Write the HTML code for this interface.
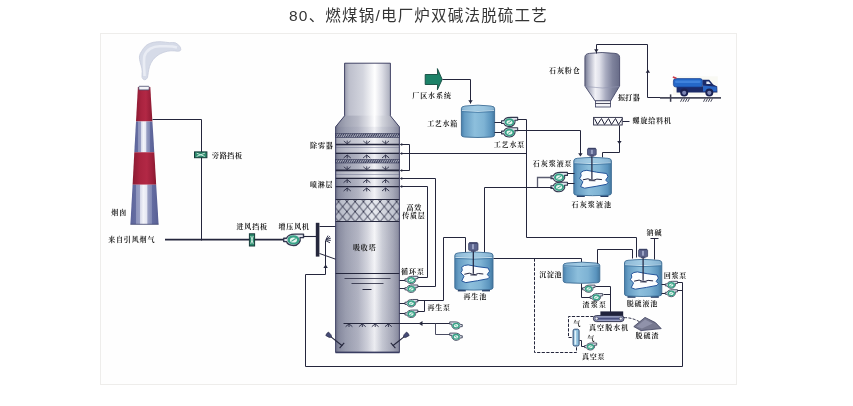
<!DOCTYPE html>
<html lang="zh-CN">
<head>
<meta charset="utf-8">
<title>80、燃煤锅/电厂炉双碱法脱硫工艺</title>
<style>
html,body{margin:0;padding:0;background:#fff;}
body{width:853px;height:406px;overflow:hidden;position:relative;font-family:"Liberation Sans","Noto Sans CJK SC",sans-serif;}
.title{opacity:0.99;position:absolute;left:0;top:0;width:837px;height:31px;line-height:31px;text-align:center;font-size:15.5px;color:#333;letter-spacing:1.2px;white-space:nowrap;margin:0;font-weight:normal}
.fig{position:absolute;left:100px;top:33px;width:635px;height:350px;border:1px solid #eeedeb;background:#fefefe;}
svg{position:absolute;left:0;top:0;}
svg text{font-family:"Liberation Serif","Noto Serif CJK SC",serif;font-weight:700;fill:#1e1e1e;}
</style>
</head>
<body>
<h1 class="title">80、燃煤锅/电厂炉双碱法脱硫工艺</h1>
<div class="fig"></div>
<svg width="853" height="406" viewBox="0 0 853 406">
<defs>
<linearGradient id="tw" x1="0" x2="1" y1="0" y2="0">
<stop offset="0" stop-color="#70748a"/><stop offset="0.05" stop-color="#8c8fa2"/><stop offset="0.16" stop-color="#a1a4b4"/><stop offset="0.35" stop-color="#b8bac7"/>
<stop offset="0.5" stop-color="#dcdde4"/><stop offset="0.61" stop-color="#fdfdfe"/><stop offset="0.73" stop-color="#d2d4dc"/>
<stop offset="0.9" stop-color="#abadbb"/><stop offset="1" stop-color="#8a8c9f"/>
</linearGradient>
<linearGradient id="twn" x1="0" x2="1" y1="0" y2="0">
<stop offset="0" stop-color="#9a9dae"/><stop offset="0.1" stop-color="#bdbfcc"/><stop offset="0.4" stop-color="#d3d5de"/>
<stop offset="0.66" stop-color="#ffffff"/><stop offset="0.82" stop-color="#dcdde5"/><stop offset="1" stop-color="#aaadbc"/>
</linearGradient>
<linearGradient id="twd" x1="0" x2="0" y1="0" y2="1">
<stop offset="0" stop-color="#50557c" stop-opacity="0.08"/><stop offset="0.5" stop-color="#50557c" stop-opacity="0.05"/><stop offset="1" stop-color="#4a4f78" stop-opacity="0.1"/>
</linearGradient>
<linearGradient id="tk" x1="0" x2="1" y1="0" y2="0">
<stop offset="0" stop-color="#4880ac"/><stop offset="0.1" stop-color="#669dc4"/><stop offset="0.4" stop-color="#8dbfdc"/>
<stop offset="0.68" stop-color="#7eb3d4"/><stop offset="0.9" stop-color="#5a94be"/><stop offset="1" stop-color="#44789f"/>
</linearGradient>
<linearGradient id="red" x1="0" x2="1" y1="0" y2="0">
<stop offset="0" stop-color="#8a1a32"/><stop offset="0.3" stop-color="#a9233f"/><stop offset="0.6" stop-color="#b22845"/><stop offset="0.85" stop-color="#9c1f3a"/><stop offset="1" stop-color="#86182e"/>
</linearGradient>
<linearGradient id="gry" x1="0" x2="1" y1="0" y2="0">
<stop offset="0" stop-color="#5c649a"/><stop offset="0.2" stop-color="#666ea2"/><stop offset="0.2" stop-color="#8d94bc"/><stop offset="0.34" stop-color="#9aa0c4"/>
<stop offset="0.34" stop-color="#d4d7e8"/><stop offset="0.46" stop-color="#f2f3f9"/><stop offset="0.58" stop-color="#e4e6f2"/><stop offset="0.62" stop-color="#9aa0c4"/><stop offset="0.76" stop-color="#8088b4"/>
<stop offset="0.76" stop-color="#656da2"/><stop offset="1" stop-color="#585f94"/>
</linearGradient>
<linearGradient id="silo" x1="0" x2="1" y1="0" y2="0">
<stop offset="0" stop-color="#73778f"/><stop offset="0.1" stop-color="#a3a6ba"/><stop offset="0.3" stop-color="#f1f1f6"/>
<stop offset="0.42" stop-color="#e0e1ea"/><stop offset="0.6" stop-color="#a9acc0"/><stop offset="0.8" stop-color="#7e829c"/><stop offset="1" stop-color="#686c88"/>
</linearGradient>
<pattern id="hat" width="2.2" height="4" patternUnits="userSpaceOnUse">
<rect width="2.2" height="4" fill="#b4b7c6"/><path d="M-0.55 4 L1.65 0 M1.65 4 L3.85 0 M-2.75 4 L-0.55 0" stroke="#2e3250" stroke-width="1.0"/>
</pattern>
<pattern id="xh" width="8.3" height="10" patternUnits="userSpaceOnUse" x="330.25" y="201.6">
<path d="M0 0 L8.3 10 M8.3 0 L0 10" stroke="#25273f" stroke-width="0.9" fill="none"/>
</pattern>
<filter id="tb" x="-5%" y="-5%" width="110%" height="110%"><feGaussianBlur stdDeviation="0.22"/></filter>
<filter id="sm" x="-20%" y="-20%" width="140%" height="140%"><feGaussianBlur stdDeviation="0.5"/></filter>
</defs>

<g id="chimney">
<path d="M140.3 53.5 Q141.0 52.1 143.4 48.5 Q145.8 44.9 149.4 43.5 Q153.0 42.1 157.2 41.8 Q161.3 41.4 165.5 42.2 Q169.7 43.0 172.6 42.5 Q175.6 42.1 178.3 44.7 Q181.1 47.3 180.8 49.5 Q180.6 51.6 177.5 51.2 Q174.4 50.7 170.9 50.8 Q167.3 50.9 163.1 52.5 Q158.9 54.0 155.7 56.9 Q152.5 59.7 150.9 63.1 Q149.4 66.4 148.8 69.4 Q148.2 72.4 147.9 75.3 Q147.7 78.3 146.1 79.3 Q144.6 80.3 143.1 79.1 Q141.5 77.9 142.0 74.6 Q142.5 71.2 141.8 68.2 Q141.0 65.2 140.2 62.2 Q139.3 59.3 139.4 57.1 Q139.6 55.0 140.3 53.5 Z" fill="#d6dbe8" stroke="#c6ccdc" stroke-width="0.8" filter="url(#sm)"/>
<path d="M144.6 76 C144.4 70 143.4 63 144.4 56 C146.6 49.6 153 46 160 46.2 C165 46.6 171 45.6 177 47.4" fill="none" stroke="#e9ecf4" stroke-width="2.6" filter="url(#sm)"/>
<polygon points="137.9,87.0 150.3,87.0 152.4,121.6 136.0,121.6" fill="url(#red)"/>
<polygon points="136.0,121.6 152.4,121.6 154.3,152.2 134.3,152.2" fill="url(#gry)"/>
<polygon points="134.3,152.2 154.3,152.2 156.2,184.7 132.6,184.7" fill="url(#red)"/>
<polygon points="132.6,184.7 156.2,184.7 158.6,224.3 130.4,224.3" fill="url(#gry)"/>
<rect x="138.8" y="86.3" width="10.4" height="3.6" rx="0.8" fill="#f4f4f8" stroke="#4a4e6e" stroke-width="0.8"/>
<path d="M130.4 224.3 L158.6 224.3" stroke="#3a3f6a" stroke-width="0.8"/>
</g>
<path d="M152.5 119.5 L201.5 119.5 L201.5 240.5" fill="none" stroke="#24263c" stroke-width="1.00" />
<rect x="194.5" y="151.9" width="12.4" height="5.8" fill="#2b8a6c" stroke="#183a3a" stroke-width="1"/>
<path d="M196.6 153.2 L204.8 156.4 M196.6 156.4 L204.8 153.2" stroke="#d6f0e6" stroke-width="0.9"/>
<path d="M165.0 239.7 L286.0 239.7" fill="none" stroke="#24263c" stroke-width="1.70" />
<path d="M302.5 236.5 L316.5 236.5" fill="none" stroke="#24263c" stroke-width="1.10" />
<rect x="249.4" y="233.8" width="5.2" height="12.2" fill="#2b8a6c" stroke="#183a3a" stroke-width="1"/>
<path d="M250.8 236 L253.2 243.8 M253.2 236 L250.8 243.8" stroke="#d6f0e6" stroke-width="0.9"/>
<g transform="translate(293.6 239.9) scale(1.500 1.500)">
<path d="M-6.6 -1.1 L-4.7 -1.1 C-4.1 -3 -1.6 -3.9 1 -3.9 L6.6 -3.9 L6.6 -1.5 L4.3 -1.5 C5 1 3 3.7 0 3.7 C-2.4 3.7 -4.3 2.5 -4.7 1.1 L-6.6 1.1 Z" fill="#dfe2ec" stroke="#33384f" stroke-width="0.9" stroke-linejoin="round"/>
<ellipse cx="-0.1" cy="0" rx="4" ry="3.1" fill="#37a286"/>
<ellipse cx="-0.1" cy="0.1" rx="2.4" ry="1.7" fill="#e6f5ef"/>
<path d="M-1.5 1.0 L1.4 -0.9" stroke="#37a286" stroke-width="0.7"/>
</g>
<rect x="315.8" y="222.8" width="3.6" height="33.8" fill="#25273c"/>
<path d="M319.5 226.5 L336.5 226.5" fill="none" stroke="#24263c" stroke-width="1.00" />
<path d="M319.5 253.5 L336.5 259.5" fill="none" stroke="#24263c" stroke-width="1.00" />
<path d="M325.5 274.5 L325.5 240.5" fill="none" stroke="#24263c" stroke-width="1.00" />
<path d="M325.6 240.5 L330 236.2 M326 239.6 L330.8 238.2 M326 240 L330.8 240.4 M326 240.8 L330 242.8 M325.8 239.8 L328 235.6" stroke="#23253f" stroke-width="0.9" fill="none"/>
<polygon points="325.6,264.6 323.4,267.9 327.8,267.9" fill="#24263c"/>
<path d="M325.5 274.5 L305.5 274.5 L305.5 366.5 L682.5 366.5 L682.5 282.5" fill="none" stroke="#24263c" stroke-width="1.00" />
<g id="tower">
<path d="M344.6 63.2 L390.4 63.2 L390.4 115.8 L399.4 126.8 L399.4 352.3 L335.6 352.3 L335.6 126.8 L344.6 115.8 Z" fill="url(#tw)"/>
<rect x="344.6" y="63.2" width="45.8" height="52.6" fill="url(#twn)"/>
<path d="M344.6 115.8 L390.4 115.8 L399.4 126.8 L335.6 126.8 Z" fill="url(#tw)" opacity="0.9"/>
<rect x="335.6" y="126.8" width="63.8" height="225.5" fill="url(#twd)"/>
<rect x="335.6" y="199.6" width="63.8" height="22" fill="#dfe1ea" opacity="0.55"/>
<rect x="335.6" y="199.6" width="63.8" height="22" fill="url(#xh)"/>
<path d="M335.5 199.5 L399.5 199.5" fill="none" stroke="#24263c" stroke-width="1.00" />
<path d="M335.5 221.5 L399.5 221.5" fill="none" stroke="#24263c" stroke-width="1.00" />
<rect x="336.2" y="145.2" width="62.6" height="7.4" fill="#ffffff" opacity="0.3"/>
<rect x="336.2" y="171.2" width="62.6" height="6.8" fill="#ffffff" opacity="0.3"/>
<rect x="336.2" y="138.0" width="62.6" height="6.0" fill="#ffffff" opacity="0.3"/>
<rect x="335.6" y="133.4" width="63.8" height="4.0" fill="url(#hat)" stroke="#3a3e5c" stroke-width="0.6"/>
<rect x="335.6" y="159.4" width="63.8" height="3.6" fill="url(#hat)" stroke="#3a3e5c" stroke-width="0.6"/>
<path d="M335.6 144.5 L399.4 144.5" fill="none" stroke="#24263c" stroke-width="1.60" />
<path d="M335.6 153.4 L399.4 153.4" fill="none" stroke="#24263c" stroke-width="1.30" />
<path d="M335.6 170.4 L399.4 170.4" fill="none" stroke="#24263c" stroke-width="1.60" />
<path d="M335.6 178.3 L399.4 178.3" fill="none" stroke="#24263c" stroke-width="1.20" />
<path d="M335.6 186.6 L399.4 186.6" fill="none" stroke="#24263c" stroke-width="1.30" />
<path d="M335.5 147.5 L399.5 147.5" fill="none" stroke="#6a6e8c" stroke-width="0.50" />
<path d="M335.5 174.5 L399.5 174.5" fill="none" stroke="#6a6e8c" stroke-width="0.50" />
<path d="M347.2 140.6 L347.2 143.8 M343.8 141.0 L347.2 143.8 M350.6 141.0 L347.2 143.8" stroke="#25273f" stroke-width="0.8" fill="none"/>
<path d="M366.7 140.6 L366.7 143.8 M363.3 141.0 L366.7 143.8 M370.1 141.0 L366.7 143.8" stroke="#25273f" stroke-width="0.8" fill="none"/>
<path d="M385.6 140.6 L385.6 143.8 M382.2 141.0 L385.6 143.8 M389.0 141.0 L385.6 143.8" stroke="#25273f" stroke-width="0.8" fill="none"/>
<path d="M347.2 158.4 L347.2 155.0 M343.6 158.0 L347.2 155.0 M350.8 158.0 L347.2 155.0" stroke="#25273f" stroke-width="0.9" fill="none"/>
<path d="M366.7 158.4 L366.7 155.0 M363.1 158.0 L366.7 155.0 M370.3 158.0 L366.7 155.0" stroke="#25273f" stroke-width="0.9" fill="none"/>
<path d="M385.6 158.4 L385.6 155.0 M382.0 158.0 L385.6 155.0 M389.2 158.0 L385.6 155.0" stroke="#25273f" stroke-width="0.9" fill="none"/>
<path d="M347.2 166.4 L347.2 169.6 M343.8 166.8 L347.2 169.6 M350.6 166.8 L347.2 169.6" stroke="#25273f" stroke-width="0.8" fill="none"/>
<path d="M366.7 166.4 L366.7 169.6 M363.3 166.8 L366.7 169.6 M370.1 166.8 L366.7 169.6" stroke="#25273f" stroke-width="0.8" fill="none"/>
<path d="M385.6 166.4 L385.6 169.6 M382.2 166.8 L385.6 169.6 M389.0 166.8 L385.6 169.6" stroke="#25273f" stroke-width="0.8" fill="none"/>
<path d="M347.2 183.0 L347.2 179.6 M343.6 182.6 L347.2 179.6 M350.8 182.6 L347.2 179.6" stroke="#25273f" stroke-width="0.9" fill="none"/>
<path d="M366.7 183.0 L366.7 179.6 M363.1 182.6 L366.7 179.6 M370.3 182.6 L366.7 179.6" stroke="#25273f" stroke-width="0.9" fill="none"/>
<path d="M385.6 183.0 L385.6 179.6 M382.0 182.6 L385.6 179.6 M389.2 182.6 L385.6 179.6" stroke="#25273f" stroke-width="0.9" fill="none"/>
<path d="M347.2 191.4 L347.2 188.0 M343.6 191.0 L347.2 188.0 M350.8 191.0 L347.2 188.0" stroke="#25273f" stroke-width="0.9" fill="none"/>
<path d="M366.7 191.4 L366.7 188.0 M363.1 191.0 L366.7 188.0 M370.3 191.0 L366.7 188.0" stroke="#25273f" stroke-width="0.9" fill="none"/>
<path d="M385.6 191.4 L385.6 188.0 M382.0 191.0 L385.6 188.0 M389.2 191.0 L385.6 188.0" stroke="#25273f" stroke-width="0.9" fill="none"/>
<path d="M335.5 273.5 L399.5 273.5" fill="none" stroke="#24263c" stroke-width="1.20" />
<path d="M344.5 278.5 L390.5 278.5" fill="none" stroke="#24263c" stroke-width="0.80" />
<path d="M351.5 283.5 L383.5 283.5" fill="none" stroke="#24263c" stroke-width="0.80" />
<path d="M362.5 289.5 L371.5 289.5" fill="none" stroke="#24263c" stroke-width="1.00" />
<path d="M349.0 327.0 L349.0 323.8 M345.6 326.7 L349.0 323.8 M352.4 326.7 L349.0 323.8" stroke="#25273f" stroke-width="0.9" fill="none"/>
<path d="M362.3 327.0 L362.3 323.8 M358.9 326.7 L362.3 323.8 M365.7 326.7 L362.3 323.8" stroke="#25273f" stroke-width="0.9" fill="none"/>
<path d="M375.2 327.0 L375.2 323.8 M371.8 326.7 L375.2 323.8 M378.6 326.7 L375.2 323.8" stroke="#25273f" stroke-width="0.9" fill="none"/>
<path d="M388.4 327.0 L388.4 323.8 M385.0 326.7 L388.4 323.8 M391.8 326.7 L388.4 323.8" stroke="#25273f" stroke-width="0.9" fill="none"/>
<path d="M344.6 63.2 L390.4 63.2 L390.4 115.8 L399.4 126.8 L399.4 352.3 L335.6 352.3 L335.6 126.8 L344.6 115.8 Z" fill="none" stroke="#34375a" stroke-width="0.9"/>
<path d="M335.5 352.5 L399.5 352.5" fill="none" stroke="#3a3e62" stroke-width="1.40" />
<path d="M330.7 336.6 L342.2 345.8" fill="none" stroke="#24263c" stroke-width="1.10" />
<path d="M339.6 348.2 L344.2 342.8" fill="none" stroke="#24263c" stroke-width="1.10" />
<path d="M-2.6 -2.2 L1.2 -1.6 L3 0 L1.2 1.6 L-2.6 2.2 Q-3.6 0 -2.6 -2.2 Z" fill="#454b76" stroke="#23253f" stroke-width="0.6" transform="translate(329.2 335.4) scale(1 1) rotate(38)"/>
<path d="M404.3 336.6 L392.8 345.8" fill="none" stroke="#24263c" stroke-width="1.10" />
<path d="M395.4 348.2 L390.8 342.8" fill="none" stroke="#24263c" stroke-width="1.10" />
<path d="M-2.6 -2.2 L1.2 -1.6 L3 0 L1.2 1.6 L-2.6 2.2 Q-3.6 0 -2.6 -2.2 Z" fill="#454b76" stroke="#23253f" stroke-width="0.6" transform="translate(405.8 335.4) scale(-1 1) rotate(38)"/>
</g>
<path d="M400.5 144.5 L409.5 144.5 L409.5 170.5 L400.5 170.5" fill="none" stroke="#24263c" stroke-width="1.00" />
<path d="M400.5 153.5 L526.5 153.5" fill="none" stroke="#24263c" stroke-width="1.00" />
<polygon points="400.0,144.5 402.2,143.0 402.2,146.0" fill="#24263c"/>
<polygon points="400.0,153.5 402.2,152.0 402.2,155.0" fill="#24263c"/>
<polygon points="400.0,170.5 402.2,169.0 402.2,172.0" fill="#24263c"/>
<path d="M400.5 178.5 L435.5 178.5 L435.5 286.5 L417.5 286.5" fill="none" stroke="#24263c" stroke-width="1.00" />
<path d="M400.5 186.5 L427.5 186.5 L427.5 277.5 L417.5 277.5" fill="none" stroke="#24263c" stroke-width="1.00" />
<polygon points="400.0,178.5 402.2,177.0 402.2,180.0" fill="#24263c"/>
<polygon points="400.0,186.5 402.2,185.0 402.2,188.0" fill="#24263c"/>
<path d="M399.5 280.5 L406.5 280.5" fill="none" stroke="#24263c" stroke-width="1.00" />
<g transform="translate(411.4 280.1) scale(0.980 0.980)">
<path d="M-6.6 -1.1 L-4.7 -1.1 C-4.1 -3 -1.6 -3.9 1 -3.9 L6.6 -3.9 L6.6 -1.5 L4.3 -1.5 C5 1 3 3.7 0 3.7 C-2.4 3.7 -4.3 2.5 -4.7 1.1 L-6.6 1.1 Z" fill="#dfe2ec" stroke="#33384f" stroke-width="0.9" stroke-linejoin="round"/>
<ellipse cx="-0.1" cy="0" rx="4" ry="3.1" fill="#37a286"/>
<ellipse cx="-0.1" cy="0.1" rx="2.4" ry="1.7" fill="#e6f5ef"/>
<path d="M-1.5 1.0 L1.4 -0.9" stroke="#37a286" stroke-width="0.7"/>
</g>
<path d="M399.5 288.5 L406.5 288.5" fill="none" stroke="#24263c" stroke-width="1.00" />
<g transform="translate(411.4 288.8) scale(0.980 0.980)">
<path d="M-6.6 -1.1 L-4.7 -1.1 C-4.1 -3 -1.6 -3.9 1 -3.9 L6.6 -3.9 L6.6 -1.5 L4.3 -1.5 C5 1 3 3.7 0 3.7 C-2.4 3.7 -4.3 2.5 -4.7 1.1 L-6.6 1.1 Z" fill="#dfe2ec" stroke="#33384f" stroke-width="0.9" stroke-linejoin="round"/>
<ellipse cx="-0.1" cy="0" rx="4" ry="3.1" fill="#37a286"/>
<ellipse cx="-0.1" cy="0.1" rx="2.4" ry="1.7" fill="#e6f5ef"/>
<path d="M-1.5 1.0 L1.4 -0.9" stroke="#37a286" stroke-width="0.7"/>
</g>
<path d="M399.5 303.5 L406.5 303.5" fill="none" stroke="#24263c" stroke-width="1.00" />
<g transform="translate(411.4 303.3) scale(0.980 0.980)">
<path d="M-6.6 -1.1 L-4.7 -1.1 C-4.1 -3 -1.6 -3.9 1 -3.9 L6.6 -3.9 L6.6 -1.5 L4.3 -1.5 C5 1 3 3.7 0 3.7 C-2.4 3.7 -4.3 2.5 -4.7 1.1 L-6.6 1.1 Z" fill="#dfe2ec" stroke="#33384f" stroke-width="0.9" stroke-linejoin="round"/>
<ellipse cx="-0.1" cy="0" rx="4" ry="3.1" fill="#37a286"/>
<ellipse cx="-0.1" cy="0.1" rx="2.4" ry="1.7" fill="#e6f5ef"/>
<path d="M-1.5 1.0 L1.4 -0.9" stroke="#37a286" stroke-width="0.7"/>
</g>
<path d="M399.5 313.5 L406.5 313.5" fill="none" stroke="#24263c" stroke-width="1.00" />
<g transform="translate(411.4 313.9) scale(0.980 0.980)">
<path d="M-6.6 -1.1 L-4.7 -1.1 C-4.1 -3 -1.6 -3.9 1 -3.9 L6.6 -3.9 L6.6 -1.5 L4.3 -1.5 C5 1 3 3.7 0 3.7 C-2.4 3.7 -4.3 2.5 -4.7 1.1 L-6.6 1.1 Z" fill="#dfe2ec" stroke="#33384f" stroke-width="0.9" stroke-linejoin="round"/>
<ellipse cx="-0.1" cy="0" rx="4" ry="3.1" fill="#37a286"/>
<ellipse cx="-0.1" cy="0.1" rx="2.4" ry="1.7" fill="#e6f5ef"/>
<path d="M-1.5 1.0 L1.4 -0.9" stroke="#37a286" stroke-width="0.7"/>
</g>
<path d="M417.5 300.5 L443.5 300.5 L443.5 237.5 L465.5 237.5 L465.5 253.5" fill="none" stroke="#24263c" stroke-width="1.00" />
<path d="M417.5 311.5 L424.5 311.5 L424.5 300.5" fill="none" stroke="#24263c" stroke-width="1.00" />
<path d="M343.5 323.5 L450.5 323.5" fill="none" stroke="#24263c" stroke-width="1.00" />
<polygon points="418.6,323.5 422.5,320.9 422.5,326.1" fill="#24263c"/>
<path d="M435.5 323.5 L435.5 334.5 L450.5 334.5" fill="none" stroke="#4a4c62" stroke-width="1.00" />
<g transform="translate(456.0 325.6) scale(-0.950 0.950)">
<path d="M-6.6 -1.1 L-4.7 -1.1 C-4.1 -3 -1.6 -3.9 1 -3.9 L6.6 -3.9 L6.6 -1.5 L4.3 -1.5 C5 1 3 3.7 0 3.7 C-2.4 3.7 -4.3 2.5 -4.7 1.1 L-6.6 1.1 Z" fill="#dfe2ec" stroke="#33384f" stroke-width="0.9" stroke-linejoin="round"/>
<ellipse cx="-0.1" cy="0" rx="4" ry="3.1" fill="#37a286"/>
<ellipse cx="-0.1" cy="0.1" rx="2.4" ry="1.7" fill="#e6f5ef"/>
<path d="M-1.5 1.0 L1.4 -0.9" stroke="#37a286" stroke-width="0.7"/>
</g>
<g transform="translate(456.0 336.8) scale(-0.950 0.950)">
<path d="M-6.6 -1.1 L-4.7 -1.1 C-4.1 -3 -1.6 -3.9 1 -3.9 L6.6 -3.9 L6.6 -1.5 L4.3 -1.5 C5 1 3 3.7 0 3.7 C-2.4 3.7 -4.3 2.5 -4.7 1.1 L-6.6 1.1 Z" fill="#dfe2ec" stroke="#33384f" stroke-width="0.9" stroke-linejoin="round"/>
<ellipse cx="-0.1" cy="0" rx="4" ry="3.1" fill="#37a286"/>
<ellipse cx="-0.1" cy="0.1" rx="2.4" ry="1.7" fill="#e6f5ef"/>
<path d="M-1.5 1.0 L1.4 -0.9" stroke="#37a286" stroke-width="0.7"/>
</g>
<polygon points="425.2,74.5 437.6,74.5 437.4,68.6 442.2,79.4 437.4,89.8 437.6,84.5 425.2,84.5" fill="#1c8268" stroke="#134a40" stroke-width="0.9" stroke-linejoin="miter"/>
<path d="M442.5 79.5 L470.5 79.5 L470.5 103.5" fill="none" stroke="#24263c" stroke-width="1.00" />
<polygon points="470.5,103.6 468.3,100.3 472.7,100.3" fill="#24263c"/>
<path d="M461.4 108.6 Q461.4 106.4 464.9 106.1 Q478.0 104.2 491.1 106.1 Q494.6 106.4 494.6 108.6 L494.6 135.0 Q494.6 136.8 491.6 137.0 Q478.0 138.0 464.4 137.0 Q461.4 136.8 461.4 135.0 Z" fill="url(#tk)" stroke="#3d6c94" stroke-width="0.9"/>
<path d="M462.0 108.6 Q462.0 106.8 464.9 106.6 Q478.0 104.8 491.1 106.6 Q494.0 106.8 494.0 108.6 L494.0 109.8 Q478.0 111.4 462.0 109.8 Z" fill="#b5d6ea" opacity="0.55"/>
<path d="M462.0 110.6 Q478.0 112.2 494.0 110.6" fill="none" stroke="#e2f0f8" stroke-width="0.8"/>
<path d="M461.7 111.6 Q478.0 113.2 494.3 111.6" fill="none" stroke="#3f73a0" stroke-width="0.8"/>
<path d="M494.5 122.5 L503.5 122.5" fill="none" stroke="#24263c" stroke-width="1.00" />
<g transform="translate(509.6 122.1) scale(1.220 1.220)">
<path d="M-6.6 -1.1 L-4.7 -1.1 C-4.1 -3 -1.6 -3.9 1 -3.9 L6.6 -3.9 L6.6 -1.5 L4.3 -1.5 C5 1 3 3.7 0 3.7 C-2.4 3.7 -4.3 2.5 -4.7 1.1 L-6.6 1.1 Z" fill="#dfe2ec" stroke="#33384f" stroke-width="0.9" stroke-linejoin="round"/>
<ellipse cx="-0.1" cy="0" rx="4" ry="3.1" fill="#37a286"/>
<ellipse cx="-0.1" cy="0.1" rx="2.4" ry="1.7" fill="#e6f5ef"/>
<path d="M-1.5 1.0 L1.4 -0.9" stroke="#37a286" stroke-width="0.7"/>
</g>
<path d="M494.5 132.5 L503.5 132.5" fill="none" stroke="#24263c" stroke-width="1.00" />
<g transform="translate(509.6 132.5) scale(1.220 1.220)">
<path d="M-6.6 -1.1 L-4.7 -1.1 C-4.1 -3 -1.6 -3.9 1 -3.9 L6.6 -3.9 L6.6 -1.5 L4.3 -1.5 C5 1 3 3.7 0 3.7 C-2.4 3.7 -4.3 2.5 -4.7 1.1 L-6.6 1.1 Z" fill="#dfe2ec" stroke="#33384f" stroke-width="0.9" stroke-linejoin="round"/>
<ellipse cx="-0.1" cy="0" rx="4" ry="3.1" fill="#37a286"/>
<ellipse cx="-0.1" cy="0.1" rx="2.4" ry="1.7" fill="#e6f5ef"/>
<path d="M-1.5 1.0 L1.4 -0.9" stroke="#37a286" stroke-width="0.7"/>
</g>
<path d="M517.5 119.5 L526.5 119.5 L526.5 237.5 L636.5 237.5 L636.5 257.5" fill="none" stroke="#24263c" stroke-width="1.00" />
<path d="M517.5 130.5 L580.5 130.5 L580.5 155.5" fill="none" stroke="#24263c" stroke-width="1.00" />
<polygon points="580.4,156.6 578.2,153.3 582.6,153.3" fill="#24263c"/>
<path d="M584.9 57.4 Q584.9 53.8 589.4 53.4 Q602 51.6 615 53.4 Q619.6 53.8 619.6 57.4 L619.6 86 L610.6 101 L595.2 101 L584.9 86 Z" fill="url(#silo)" stroke="#474b6a" stroke-width="0.9"/>
<path d="M585.2 86.5 Q602.5 89.5 619.8 86.5" fill="none" stroke="#9296b0" stroke-width="0.6"/>
<rect x="595.4" y="100.8" width="15" height="6.2" fill="#f4f4f8" stroke="#34375a" stroke-width="0.8"/>
<path d="M595.5 103.5 L610.5 103.5" fill="none" stroke="#24263c" stroke-width="0.80" />
<path d="M596.5 53.5 L596.5 44.5 L647.5 44.5 L647.5 97.5 L662.5 97.5" fill="none" stroke="#24263c" stroke-width="1.00" />
<path d="M660.0 97.8 L721.0 97.8" fill="none" stroke="#4a4c5c" stroke-width="1.70" />
<polygon points="596.3,52.6 594.1,49.3 598.5,49.3" fill="#24263c"/>
<polygon points="647.9,69.4 645.7,72.7 650.1,72.7" fill="#24263c"/>
<path d="M670.6 94.4 L670.6 101.8" fill="none" stroke="#3c3e50" stroke-width="1.50" />
<path d="M682.3 98.4 L680.5 101.8" fill="none" stroke="#4a4c5c" stroke-width="1.00" />
<path d="M684.7 98.4 L682.9 101.8" fill="none" stroke="#4a4c5c" stroke-width="1.00" />
<path d="M687.1 98.4 L685.3 101.8" fill="none" stroke="#4a4c5c" stroke-width="1.00" />
<path d="M689.5 98.4 L687.7 101.8" fill="none" stroke="#4a4c5c" stroke-width="1.00" />
<path d="M705.3 98.4 L703.5 101.8" fill="none" stroke="#4a4c5c" stroke-width="1.00" />
<path d="M707.7 98.4 L705.9 101.8" fill="none" stroke="#4a4c5c" stroke-width="1.00" />
<path d="M710.1 98.4 L708.3 101.8" fill="none" stroke="#4a4c5c" stroke-width="1.00" />
<path d="M712.5 98.4 L710.7 101.8" fill="none" stroke="#4a4c5c" stroke-width="1.00" />
<g id="truck">
<rect x="673" y="76.4" width="44.8" height="18.6" fill="#f6f6ee" opacity="0.7"/>
<path d="M676.6 86.4 L702.4 86.4 L702.4 79.8 L709.2 79.8 L713.2 84.4 L717.2 86.4 L717.4 92.6 L676.6 92.6 Z" fill="#1b2a68"/>
<rect x="673.4" y="78.6" width="29" height="8.4" rx="2.4" fill="#2568c8" stroke="#173c8c" stroke-width="0.7"/>
<rect x="675" y="80.4" width="25.6" height="2.6" rx="1.2" fill="#3f82dc"/>
<path d="M672.8 77 L676.4 78.2" stroke="#cc3a4a" stroke-width="1.5"/>
<path d="M706.4 81.4 L708.8 81.4 L710.8 84 L706.4 84 Z" fill="#e6ecf8"/>
<path d="M703 85.4 L716.6 86.8 L716.8 91.6 L703 91.6 Z" fill="#2a66c4"/>
<circle cx="684.2" cy="92.6" r="4" fill="#1b2252"/>
<circle cx="684.2" cy="92.8" r="2.1" fill="#7c86b4"/>
<circle cx="709.3" cy="92.6" r="4" fill="#1b2252"/>
<circle cx="709.3" cy="92.8" r="2.1" fill="#7c86b4"/>
</g>
<rect x="593.6" y="117.4" width="28.6" height="7.6" fill="#fafafc" stroke="#25273f" stroke-width="0.9"/>
<path d="M594.5 118.5 L597.5 124.5 L601.5 118.5 L604.5 124.5 L608.5 118.5 L611.5 124.5 L615.5 118.5 L618.5 124.5 L622.5 118.5" fill="none" stroke="#24263c" stroke-width="1.00" />
<path d="M622.5 121.5 L629.5 121.5" fill="none" stroke="#24263c" stroke-width="1.00" />
<path d="M619.5 125.5 L619.5 152.5 L602.5 152.5 L602.5 157.5" fill="none" stroke="#24263c" stroke-width="1.00" />
<polygon points="619.4,144.2 617.2,140.9 621.6,140.9" fill="#24263c"/>
<rect x="576.8" y="194.8" width="8" height="2.2" fill="#2a3f66"/>
<rect x="600.4" y="194.8" width="8" height="2.2" fill="#2a3f66"/>
<path d="M573.8 160.8 Q573.8 158.6 577.3 158.3 Q592.6 156.4 607.9 158.3 Q611.4 158.6 611.4 160.8 L611.4 193.2 Q611.4 195.0 608.4 195.2 Q592.6 196.2 576.8 195.2 Q573.8 195.0 573.8 193.2 Z" fill="url(#tk)" stroke="#3d6c94" stroke-width="0.9"/>
<path d="M574.4 160.8 Q574.4 159.0 577.3 158.8 Q592.6 157.0 607.9 158.8 Q610.8 159.0 610.8 160.8 L610.8 162.0 Q592.6 163.6 574.4 162.0 Z" fill="#b5d6ea" opacity="0.55"/>
<path d="M574.4 162.8 Q592.6 164.4 610.8 162.8" fill="none" stroke="#e2f0f8" stroke-width="0.8"/>
<path d="M574.1 163.8 Q592.6 165.4 611.1 163.8" fill="none" stroke="#3f73a0" stroke-width="0.8"/>
<path d="M580.6 172.8 Q582.9 170.3 586.9 170.3 Q596.6 172.5 606.6 173.5 L608.0 176.7 L605.7 180.1 L608.0 182.5 L606.6 184.3 Q596.6 186.4 584.6 188.2 L580.6 186.6 L582.9 181.8 L579.7 178.4 L581.2 175.7 Z" fill="#fbfdff" stroke="#24549a" stroke-width="1" stroke-linejoin="round"/>
<rect x="587.5" y="148.6" width="8.7" height="6.6" rx="0.8" fill="#5d658e" stroke="#343a5e" stroke-width="0.7"/>
<rect x="590.9" y="149.8" width="2.0" height="4.2" fill="#9aa2c4"/>
<rect x="588.1" y="147.8" width="7.5" height="1.3" fill="#3b4166"/>
<rect x="589.5" y="155.0" width="4.8" height="1.6" fill="#4a5078"/>
<path d="M591.9 156.2 L591.9 179.2" fill="none" stroke="#20233f" stroke-width="1.20" />
<path d="M582.9 179.8 L587.9 178.8 L590.9 179.8 L593.9 180.1 L596.9 179.1 L601.9 179.6" fill="none" stroke="#20233f" stroke-width="1.00" />
<path d="M588.9 180.6 L595.4 180.8" fill="none" stroke="#20233f" stroke-width="0.80" />
<path d="M566.5 173.5 L574.5 173.5" fill="none" stroke="#24263c" stroke-width="1.00" />
<g transform="translate(559.2 177.3) scale(1.250 1.250)">
<path d="M-6.6 -1.1 L-4.7 -1.1 C-4.1 -3 -1.6 -3.9 1 -3.9 L6.6 -3.9 L6.6 -1.5 L4.3 -1.5 C5 1 3 3.7 0 3.7 C-2.4 3.7 -4.3 2.5 -4.7 1.1 L-6.6 1.1 Z" fill="#dfe2ec" stroke="#33384f" stroke-width="0.9" stroke-linejoin="round"/>
<ellipse cx="-0.1" cy="0" rx="4" ry="3.1" fill="#37a286"/>
<ellipse cx="-0.1" cy="0.1" rx="2.4" ry="1.7" fill="#e6f5ef"/>
<path d="M-1.5 1.0 L1.4 -0.9" stroke="#37a286" stroke-width="0.7"/>
</g>
<path d="M566.5 183.5 L574.5 183.5" fill="none" stroke="#24263c" stroke-width="1.00" />
<g transform="translate(559.2 187.1) scale(1.250 1.250)">
<path d="M-6.6 -1.1 L-4.7 -1.1 C-4.1 -3 -1.6 -3.9 1 -3.9 L6.6 -3.9 L6.6 -1.5 L4.3 -1.5 C5 1 3 3.7 0 3.7 C-2.4 3.7 -4.3 2.5 -4.7 1.1 L-6.6 1.1 Z" fill="#dfe2ec" stroke="#33384f" stroke-width="0.9" stroke-linejoin="round"/>
<ellipse cx="-0.1" cy="0" rx="4" ry="3.1" fill="#37a286"/>
<ellipse cx="-0.1" cy="0.1" rx="2.4" ry="1.7" fill="#e6f5ef"/>
<path d="M-1.5 1.0 L1.4 -0.9" stroke="#37a286" stroke-width="0.7"/>
</g>
<path d="M552.5 177.5 L537.5 177.5 L537.5 187.5" fill="none" stroke="#5a5c70" stroke-width="1.30" />
<path d="M484.5 252.5 L484.5 187.5 L552.5 187.5" fill="none" stroke="#24263c" stroke-width="1.00" />
<rect x="457.8" y="289.2" width="8" height="2.2" fill="#2a3f66"/>
<rect x="482.0" y="289.2" width="8" height="2.2" fill="#2a3f66"/>
<path d="M454.8 255.4 Q454.8 253.2 458.3 252.9 Q473.9 251.0 489.5 252.9 Q493.0 253.2 493.0 255.4 L493.0 287.6 Q493.0 289.4 490.0 289.6 Q473.9 290.6 457.8 289.6 Q454.8 289.4 454.8 287.6 Z" fill="url(#tk)" stroke="#3d6c94" stroke-width="0.9"/>
<path d="M455.4 255.4 Q455.4 253.6 458.3 253.4 Q473.9 251.6 489.5 253.4 Q492.4 253.6 492.4 255.4 L492.4 256.6 Q473.9 258.2 455.4 256.6 Z" fill="#b5d6ea" opacity="0.55"/>
<path d="M455.4 257.4 Q473.9 259.0 492.4 257.4" fill="none" stroke="#e2f0f8" stroke-width="0.8"/>
<path d="M455.1 258.4 Q473.9 260.0 492.7 258.4" fill="none" stroke="#3f73a0" stroke-width="0.8"/>
<path d="M461.7 267.3 Q464.0 264.9 468.1 264.9 Q477.9 267.0 488.1 268.0 L489.6 271.2 L487.2 274.6 L489.6 276.9 L488.1 278.7 Q477.9 280.8 465.8 282.6 L461.7 281.0 L464.0 276.2 L460.8 272.8 L462.3 270.2 Z" fill="#fbfdff" stroke="#24549a" stroke-width="1" stroke-linejoin="round"/>
<rect x="468.6" y="243.0" width="9.4" height="7.4" rx="0.8" fill="#5d658e" stroke="#343a5e" stroke-width="0.7"/>
<rect x="472.0" y="244.2" width="2.0" height="5.0" fill="#9aa2c4"/>
<rect x="469.2" y="242.2" width="8.2" height="1.3" fill="#3b4166"/>
<rect x="470.9" y="250.2" width="4.8" height="1.6" fill="#4a5078"/>
<path d="M473.3 251.4 L473.3 273.7" fill="none" stroke="#20233f" stroke-width="1.20" />
<path d="M464.3 274.3 L469.3 273.2 L472.3 274.3 L475.3 274.5 L478.3 273.5 L483.3 274.0" fill="none" stroke="#20233f" stroke-width="1.00" />
<path d="M470.3 275.0 L476.8 275.2" fill="none" stroke="#20233f" stroke-width="0.80" />
<path d="M493.5 258.5 L581.5 258.5 L581.5 262.5" fill="none" stroke="#24263c" stroke-width="1.00" />
<path d="M534.5 258.5 L534.5 352.5 L576.5 352.5 L576.5 346.5" fill="none" stroke="#24263c" stroke-width="1.00" stroke-dasharray="3.2 1.4" />
<path d="M563.2 265.6 Q563.2 263.4 566.7 263.1 Q581.5 261.2 596.3 263.1 Q599.8 263.4 599.8 265.6 L599.8 280.8 Q599.8 282.6 596.8 282.8 Q581.5 283.8 566.2 282.8 Q563.2 282.6 563.2 280.8 Z" fill="url(#tk)" stroke="#3d6c94" stroke-width="0.9"/>
<path d="M563.8 265.6 Q563.8 263.8 566.7 263.6 Q581.5 261.8 596.3 263.6 Q599.2 263.8 599.2 265.6 L599.2 266.8 Q581.5 268.4 563.8 266.8 Z" fill="#b5d6ea" opacity="0.55"/>
<path d="M563.5 265.8 Q581.5 267.2 599.5 265.8" fill="none" stroke="#3f73a0" stroke-width="0.8"/>
<path d="M597.5 263.5 L597.5 249.5 L632.5 249.5 L632.5 258.5" fill="none" stroke="#24263c" stroke-width="1.00" />
<path d="M581.5 283.5 L581.5 297.5 L592.5 297.5" fill="none" stroke="#24263c" stroke-width="1.00" />
<path d="M581.5 288.5 L584.5 288.5" fill="none" stroke="#24263c" stroke-width="1.00" />
<g transform="translate(588.8 288.8) scale(0.950 0.950)">
<path d="M-6.6 -1.1 L-4.7 -1.1 C-4.1 -3 -1.6 -3.9 1 -3.9 L6.6 -3.9 L6.6 -1.5 L4.3 -1.5 C5 1 3 3.7 0 3.7 C-2.4 3.7 -4.3 2.5 -4.7 1.1 L-6.6 1.1 Z" fill="#dfe2ec" stroke="#33384f" stroke-width="0.9" stroke-linejoin="round"/>
<ellipse cx="-0.1" cy="0" rx="4" ry="3.1" fill="#37a286"/>
<ellipse cx="-0.1" cy="0.1" rx="2.4" ry="1.7" fill="#e6f5ef"/>
<path d="M-1.5 1.0 L1.4 -0.9" stroke="#37a286" stroke-width="0.7"/>
</g>
<g transform="translate(596.4 297.3) scale(0.950 0.950)">
<path d="M-6.6 -1.1 L-4.7 -1.1 C-4.1 -3 -1.6 -3.9 1 -3.9 L6.6 -3.9 L6.6 -1.5 L4.3 -1.5 C5 1 3 3.7 0 3.7 C-2.4 3.7 -4.3 2.5 -4.7 1.1 L-6.6 1.1 Z" fill="#dfe2ec" stroke="#33384f" stroke-width="0.9" stroke-linejoin="round"/>
<ellipse cx="-0.1" cy="0" rx="4" ry="3.1" fill="#37a286"/>
<ellipse cx="-0.1" cy="0.1" rx="2.4" ry="1.7" fill="#e6f5ef"/>
<path d="M-1.5 1.0 L1.4 -0.9" stroke="#37a286" stroke-width="0.7"/>
</g>
<path d="M595.5 286.5 L610.5 286.5 L610.5 312.5" fill="none" stroke="#24263c" stroke-width="1.00" />
<path d="M603.5 294.5 L610.5 294.5" fill="none" stroke="#24263c" stroke-width="1.00" />
<rect x="627.5" y="295.6" width="8" height="2.2" fill="#2a3f66"/>
<rect x="650.8" y="295.6" width="8" height="2.2" fill="#2a3f66"/>
<path d="M624.5 262.8 Q624.5 260.6 628.0 260.3 Q643.1 258.4 658.3 260.3 Q661.8 260.6 661.8 262.8 L661.8 294.0 Q661.8 295.8 658.8 296.0 Q643.1 297.0 627.5 296.0 Q624.5 295.8 624.5 294.0 Z" fill="url(#tk)" stroke="#3d6c94" stroke-width="0.9"/>
<path d="M625.1 262.8 Q625.1 261.0 628.0 260.8 Q643.1 259.0 658.3 260.8 Q661.2 261.0 661.2 262.8 L661.2 264.0 Q643.1 265.6 625.1 264.0 Z" fill="#b5d6ea" opacity="0.55"/>
<path d="M625.1 264.8 Q643.1 266.4 661.2 264.8" fill="none" stroke="#e2f0f8" stroke-width="0.8"/>
<path d="M624.8 265.8 Q643.1 267.4 661.5 265.8" fill="none" stroke="#3f73a0" stroke-width="0.8"/>
<path d="M631.2 274.3 Q633.5 271.9 637.5 271.9 Q647.1 274.0 657.0 275.0 L658.4 278.1 L656.2 281.4 L658.4 283.7 L657.0 285.4 Q647.1 287.5 635.2 289.2 L631.2 287.7 L633.5 283.0 L630.4 279.7 L631.8 277.1 Z" fill="#fbfdff" stroke="#24549a" stroke-width="1" stroke-linejoin="round"/>
<rect x="638.6" y="249.6" width="9.0" height="7.2" rx="0.8" fill="#5d658e" stroke="#343a5e" stroke-width="0.7"/>
<rect x="642.0" y="250.8" width="2.0" height="4.8" fill="#9aa2c4"/>
<rect x="639.2" y="248.8" width="7.8" height="1.3" fill="#3b4166"/>
<rect x="640.7" y="256.6" width="4.8" height="1.6" fill="#4a5078"/>
<path d="M643.1 257.8 L643.1 280.6" fill="none" stroke="#20233f" stroke-width="1.20" />
<path d="M634.1 281.2 L639.1 280.1 L642.1 281.2 L645.1 281.4 L648.1 280.4 L653.1 280.9" fill="none" stroke="#20233f" stroke-width="1.00" />
<path d="M640.1 281.9 L646.6 282.1" fill="none" stroke="#20233f" stroke-width="0.80" />
<path d="M650.5 238.5 L658.5 238.5" fill="none" stroke="#24263c" stroke-width="1.00" />
<path d="M654.5 238.5 L654.5 259.5" fill="none" stroke="#24263c" stroke-width="1.00" />
<path d="M661.5 284.5 L667.5 284.5" fill="none" stroke="#24263c" stroke-width="1.00" />
<g transform="translate(671.4 284.9) scale(0.920 0.920)">
<path d="M-6.6 -1.1 L-4.7 -1.1 C-4.1 -3 -1.6 -3.9 1 -3.9 L6.6 -3.9 L6.6 -1.5 L4.3 -1.5 C5 1 3 3.7 0 3.7 C-2.4 3.7 -4.3 2.5 -4.7 1.1 L-6.6 1.1 Z" fill="#dfe2ec" stroke="#33384f" stroke-width="0.9" stroke-linejoin="round"/>
<ellipse cx="-0.1" cy="0" rx="4" ry="3.1" fill="#37a286"/>
<ellipse cx="-0.1" cy="0.1" rx="2.4" ry="1.7" fill="#e6f5ef"/>
<path d="M-1.5 1.0 L1.4 -0.9" stroke="#37a286" stroke-width="0.7"/>
</g>
<path d="M677.5 282.5 L682.5 282.5" fill="none" stroke="#24263c" stroke-width="1.00" />
<path d="M661.5 293.5 L667.5 293.5" fill="none" stroke="#24263c" stroke-width="1.00" />
<g transform="translate(671.4 293.3) scale(0.920 0.920)">
<path d="M-6.6 -1.1 L-4.7 -1.1 C-4.1 -3 -1.6 -3.9 1 -3.9 L6.6 -3.9 L6.6 -1.5 L4.3 -1.5 C5 1 3 3.7 0 3.7 C-2.4 3.7 -4.3 2.5 -4.7 1.1 L-6.6 1.1 Z" fill="#dfe2ec" stroke="#33384f" stroke-width="0.9" stroke-linejoin="round"/>
<ellipse cx="-0.1" cy="0" rx="4" ry="3.1" fill="#37a286"/>
<ellipse cx="-0.1" cy="0.1" rx="2.4" ry="1.7" fill="#e6f5ef"/>
<path d="M-1.5 1.0 L1.4 -0.9" stroke="#37a286" stroke-width="0.7"/>
</g>
<path d="M677.5 290.5 L682.5 290.5" fill="none" stroke="#24263c" stroke-width="1.00" />
<rect x="600.4" y="311.4" width="22.8" height="4.6" fill="#20223c"/>
<rect x="593.4" y="315.6" width="30.6" height="6" rx="3" fill="#9aa0c4" stroke="#25273f" stroke-width="0.9"/>
<rect x="596.4" y="317.6" width="24.6" height="2" fill="#4a5080"/>
<circle cx="596.6" cy="318.6" r="1.5" fill="#e8eaf4" stroke="#25273f" stroke-width="0.5"/>
<circle cx="620.8" cy="318.6" r="1.5" fill="#e8eaf4" stroke="#25273f" stroke-width="0.5"/>
<path d="M593.5 316.5 L568.5 316.5 L568.5 337.5 L573.5 337.5" fill="none" stroke="#24263c" stroke-width="1.00" stroke-dasharray="3.2 1.4" />
<rect x="573.1" y="329.2" width="6" height="16.8" rx="1.6" fill="#8fc0dc" stroke="#24406a" stroke-width="0.9"/>
<rect x="574.6" y="330.6" width="1.6" height="14" fill="#e4f2fa"/>
<path d="M579.5 340.5 L581.5 340.5 L581.5 346.5 L585.5 346.5" fill="none" stroke="#24263c" stroke-width="1.00" />
<g transform="translate(590.6 346.6) scale(0.920 0.920)">
<path d="M-6.6 -1.1 L-4.7 -1.1 C-4.1 -3 -1.6 -3.9 1 -3.9 L6.6 -3.9 L6.6 -1.5 L4.3 -1.5 C5 1 3 3.7 0 3.7 C-2.4 3.7 -4.3 2.5 -4.7 1.1 L-6.6 1.1 Z" fill="#dfe2ec" stroke="#33384f" stroke-width="0.9" stroke-linejoin="round"/>
<ellipse cx="-0.1" cy="0" rx="4" ry="3.1" fill="#37a286"/>
<ellipse cx="-0.1" cy="0.1" rx="2.4" ry="1.7" fill="#e6f5ef"/>
<path d="M-1.5 1.0 L1.4 -0.9" stroke="#37a286" stroke-width="0.7"/>
</g>
<path d="M624 317.6 Q633 317.6 640.5 322.4" fill="none" stroke="#25273f" stroke-width="0.9" stroke-dasharray="3 1.4"/>
<polygon points="633.8,326.6 645,317.4 655.4,322.6 661.2,328.6 641,330.6" fill="#777990" stroke="#3a3c5a" stroke-width="0.8" stroke-linejoin="round"/>
<polygon points="636.5,326.4 645,319.4 652.6,323.6 642,328.6" fill="#9092aa"/>
<g filter="url(#tb)">
<text x="111.3" y="215.1" font-size="7.00" letter-spacing="1.00">烟囱</text>
<text x="108.2" y="242.3" font-size="7.00" letter-spacing="0.84">来自引风烟气</text>
<text x="212.0" y="157.6" font-size="7.00" letter-spacing="0.67">旁路挡板</text>
<text x="236.5" y="229.1" font-size="7.00" letter-spacing="0.83">进风挡板</text>
<text x="278.5" y="229.1" font-size="7.00" letter-spacing="0.83">增压风机</text>
<text x="310.0" y="147.6" font-size="7.00" letter-spacing="0.90">除雾器</text>
<text x="310.0" y="186.5" font-size="7.00" letter-spacing="0.70">喷淋层</text>
<text x="353.0" y="250.1" font-size="7.00" letter-spacing="0.85">吸收塔</text>
<text x="406.6" y="210.1" font-size="7.00" letter-spacing="0.60">高效</text>
<text x="402.3" y="217.7" font-size="7.00" letter-spacing="0.75">传质层</text>
<text x="401.0" y="273.9" font-size="7.00" letter-spacing="1.00">循环泵</text>
<text x="427.6" y="310.1" font-size="7.00" letter-spacing="0.70">再生泵</text>
<text x="412.2" y="98.3" font-size="7.00" letter-spacing="0.95">厂区水系统</text>
<text x="427.2" y="126.4" font-size="7.00" letter-spacing="0.67">工艺水箱</text>
<text x="493.8" y="146.9" font-size="7.00" letter-spacing="0.80">工艺水泵</text>
<text x="549.0" y="72.7" font-size="7.00" letter-spacing="0.93">石灰粉仓</text>
<text x="617.9" y="99.6" font-size="7.00" letter-spacing="0.45">振打器</text>
<text x="632.6" y="123.4" font-size="7.00" letter-spacing="0.85">螺旋给料机</text>
<text x="532.8" y="165.9" font-size="7.00" letter-spacing="0.95">石灰浆液泵</text>
<text x="571.6" y="206.6" font-size="7.00" letter-spacing="1.10">石灰浆液池</text>
<text x="463.4" y="299.3" font-size="7.00" letter-spacing="0.95">再生池</text>
<text x="539.3" y="276.6" font-size="7.00" letter-spacing="0.65">沉淀池</text>
<text x="582.5" y="306.8" font-size="7.00" letter-spacing="1.25">渣浆泵</text>
<text x="646.6" y="235.2" font-size="7.00" letter-spacing="1.00">钠碱</text>
<text x="663.8" y="277.5" font-size="7.00" letter-spacing="0.75">回浆泵</text>
<text x="626.8" y="305.9" font-size="7.00" letter-spacing="0.80">脱硫液池</text>
<text x="589.0" y="330.2" font-size="7.00" letter-spacing="1.07">真空脱水机</text>
<text x="573.3" y="326.4" font-size="7.20" text-anchor="start" letter-spacing="0.00">气</text>
<text x="587.2" y="341.0" font-size="7.20" text-anchor="start" letter-spacing="0.00">气</text>
<text x="581.9" y="359.1" font-size="7.00" letter-spacing="0.85">真空泵</text>
<text x="635.6" y="338.3" font-size="7.00" letter-spacing="0.95">脱硫渣</text>
</g>
</svg>
</body>
</html>
